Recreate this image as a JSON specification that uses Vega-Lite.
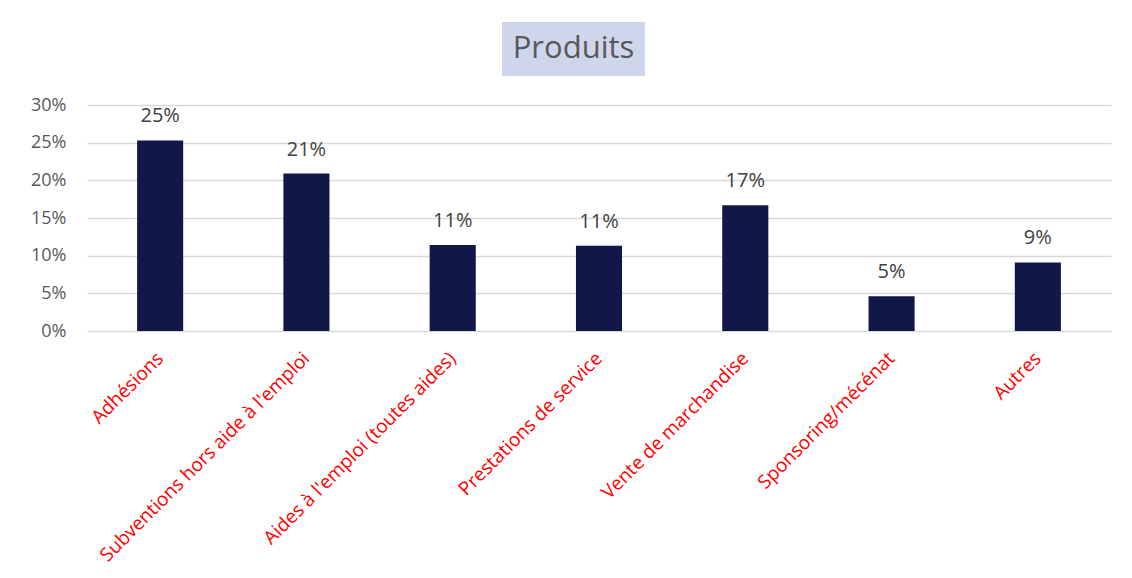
{
  "$schema": "https://vega.github.io/schema/vega-lite/v6.json",
  "background": "white",
  "padding": {"left": 30, "top": 22, "right": 10, "bottom": 5},
  "spacing": 20,
  "config": {
    "font": "Open Sans",
    "view": {"stroke": null}
  },
  "datasets": {
    "produits": [
      {"categorie": "Adhésions", "part": 0.253},
      {"categorie": "Subventions hors aide à l'emploi", "part": 0.209},
      {"categorie": "Aides à l'emploi (toutes aides)", "part": 0.114},
      {"categorie": "Prestations de service", "part": 0.113},
      {"categorie": "Vente de marchandise", "part": 0.167},
      {"categorie": "Sponsoring/mécénat", "part": 0.046},
      {"categorie": "Autres", "part": 0.091}
    ],
    "titre": [{"texte": "Produits"}],
    "vide": [{"texte": ""}]
  },
  "vconcat": [
    {
      "spacing": 0,
      "hconcat": [
        {
          "width": 415,
          "height": 54,
          "data": {"name": "vide"},
          "mark": {"type": "text"},
          "encoding": {"text": {"field": "texte"}}
        },
        {
          "width": 143,
          "height": 54,
          "view": {"fill": "#cfd5ea", "stroke": null},
          "data": {"name": "titre"},
          "mark": {"type": "text", "fontSize": 31, "color": "#595959", "baseline": "middle", "align": "center"},
          "encoding": {"text": {"field": "texte"}}
        }
      ]
    },
    {
      "width": 1024,
      "height": 226,
      "data": {"name": "produits"},
      "encoding": {
        "x": {
          "field": "categorie",
          "type": "nominal",
          "sort": null,
          "scale": {"paddingInner": 0.685, "paddingOuter": 0.3425},
          "axis": {
            "title": null,
            "labelAngle": -45,
            "labelAlign": "right",
            "labelBaseline": "middle",
            "labelColor": "#ff0000",
            "labelFontSize": 19,
            "labelPadding": 24,
            "ticks": false,
            "domain": false,
            "labelLimit": 400
          }
        },
        "y": {
          "field": "part",
          "type": "quantitative",
          "scale": {"domain": [0, 0.3]},
          "axis": {
            "title": null,
            "values": [0, 0.05, 0.1, 0.15, 0.2, 0.25, 0.3],
            "format": ".0%",
            "labelColor": "#595959",
            "labelFontSize": 18,
            "labelPadding": 21,
            "ticks": false,
            "domain": false,
            "gridColor": "#d9d9d9",
            "gridWidth": 1.5
          }
        }
      },
      "layer": [
        {"mark": {"type": "bar", "color": "#12174a"}},
        {
          "mark": {"type": "text", "baseline": "alphabetic", "dy": -18, "fontSize": 20, "color": "#404040"},
          "encoding": {"text": {"field": "part", "format": ".0%"}}
        }
      ]
    }
  ]
}
